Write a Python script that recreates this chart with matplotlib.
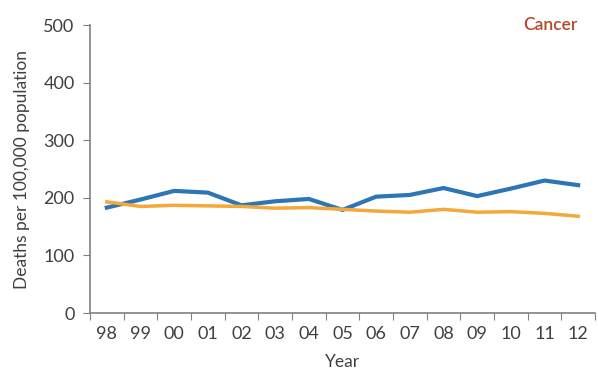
import matplotlib.pyplot as plt

years = ['98', '99', '00', '01', '02', '03', '04', '05', '06', '07', '08', '09', '10', '11', '12']
blue_rates = [183, 197, 212, 209, 187, 194, 198, 179, 202, 205, 217, 203, 216, 230, 222]
orange_rates = [193, 185, 187, 186, 185, 182, 183, 180, 177, 175, 180, 175, 176, 173, 168]

plt.rcParams['font.family'] = ['Lato', 'DejaVu Sans']
text_color = '#404040'

fig = plt.figure(figsize=(5.98, 3.70), dpi=100)
ax = fig.add_axes([0.1505, 0.154, 0.8445, 0.7784])

x = list(range(len(years)))
ax.plot(x, blue_rates, color='#2e75b6', linewidth=3.0, solid_joinstyle='miter')
ax.plot(x, orange_rates, color='#f5a83a', linewidth=2.5, solid_joinstyle='miter')

ax.set_xlim(-0.5, len(years) - 0.5)
ax.set_ylim(0, 500)
ax.set_yticks([0, 100, 200, 300, 400, 500])

# category axis: tick marks on the boundaries, labels in the middle
ax.set_xticks([i - 0.5 for i in range(len(years) + 1)])
ax.set_xticklabels([])
ax.set_xticks(x, minor=True)
ax.set_xticklabels(years, minor=True)
ax.tick_params(axis='x', which='major', length=5, color='#808080', direction='out')
ax.tick_params(axis='x', which='minor', length=0, labelsize=13, labelcolor=text_color, pad=9)
ax.tick_params(axis='y', length=5, color='#808080', labelsize=13, labelcolor=text_color, pad=6)

for side in ['top', 'right']:
    ax.spines[side].set_visible(False)
for side in ['left', 'bottom']:
    ax.spines[side].set_color('#808080')
    ax.spines[side].set_linewidth(1.2)

ax.set_xlabel('Year', fontsize=12.5, color=text_color, labelpad=9)
ax.set_ylabel('Deaths per 100,000 population', fontsize=12.5, color=text_color, labelpad=10)
ax.text(0.966, 1.0, 'Cancer', transform=ax.transAxes, ha='right', va='center',
        fontsize=12.5, color='#b5472b', fontweight='semibold')

fig.savefig('out.png', dpi=100)
